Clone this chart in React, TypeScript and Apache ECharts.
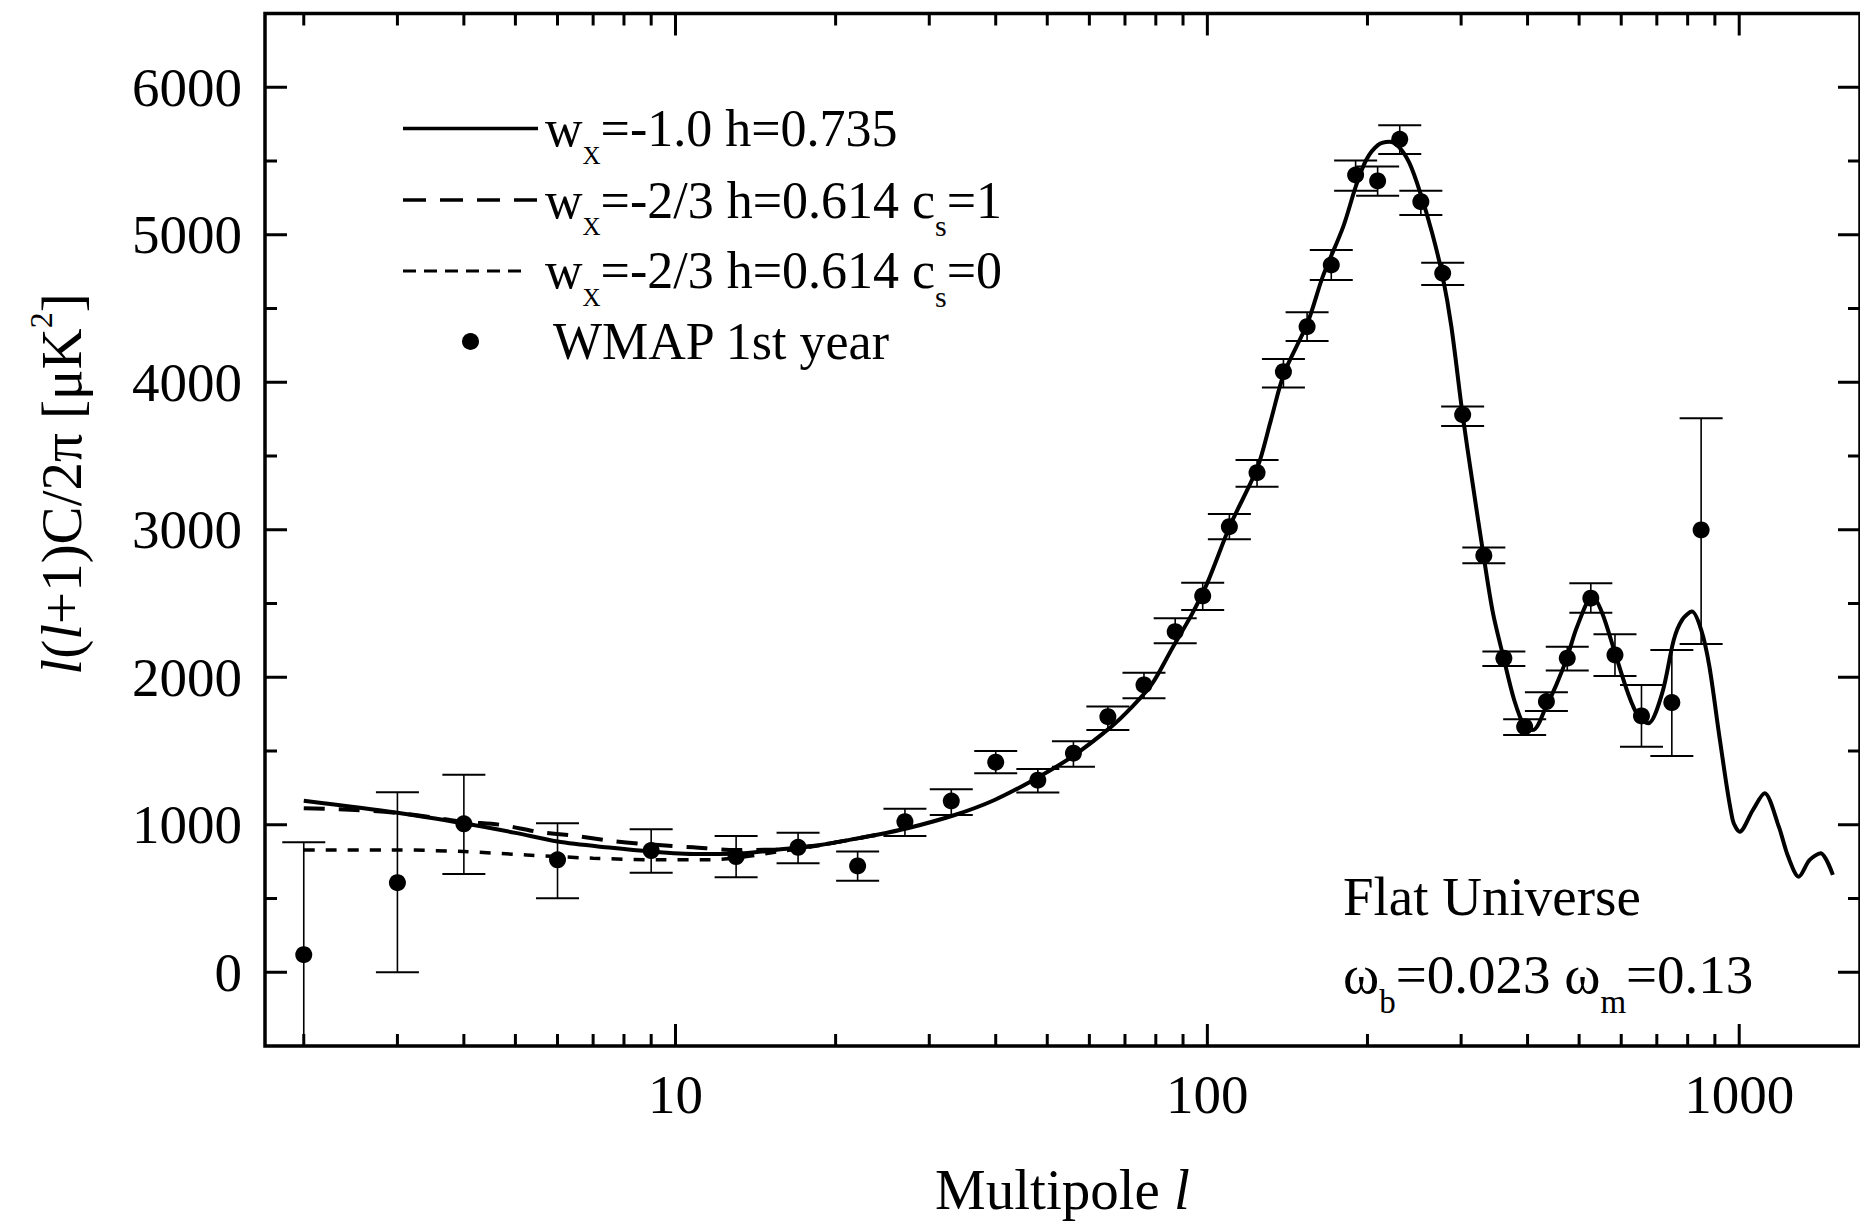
import React, { useEffect, useRef } from "react";
import * as echarts from "echarts";

const FONT = '"Liberation Serif", "Times New Roman", serif';

// WMAP 1st-year binned points
const wmapL = [2, 3, 4, 6, 9, 13, 17, 22, 27, 33, 40, 48, 56, 65, 76, 87, 98, 110, 124, 139, 154, 171, 190, 209, 230, 252, 277, 302, 331, 361, 395, 434, 475, 526, 584, 655, 747, 848];
const wmapValue = [119, 607, 1006, 762, 825, 784, 847, 721, 1021, 1161, 1424, 1302, 1485, 1733, 1948, 2309, 2551, 3021, 3387, 4072, 4377, 4795, 5405, 5365, 5647, 5224, 4739, 3780, 2825, 2129, 1665, 1835, 2129, 2536, 2151, 1738, 1828, 2999];
const wmapHigh = [881, 1220, 1339, 1010, 970, 924, 946, 818, 1109, 1241, 1500, 1378, 1566, 1801, 2031, 2400, 2641, 3107, 3473, 4158, 4475, 4897, 5503, 5462, 5742, 5299, 4811, 3835, 2879, 2174, 1715, 1898, 2207, 2637, 2292, 1948, 2185, 3756];
const wmapLow = [-600, 0, 666, 502, 675, 644, 739, 621, 924, 1066, 1349, 1218, 1394, 1643, 1858, 2231, 2456, 2936, 3292, 3964, 4280, 4694, 5299, 5265, 5548, 5134, 4660, 3704, 2773, 2077, 1609, 1772, 2045, 2438, 2009, 1529, 1466, 2226];

// w = -1.0, h = 0.735 model curve
const lcdmL = [2, 3, 4, 5, 6, 7.5, 9, 11, 13, 15.5, 18.7, 23.8, 27.3, 33.5, 39.8, 47.1, 55.7, 66, 72, 78.7, 86, 93.6, 100, 110.4, 124.3, 131.6, 139.4, 154.2, 164.8, 180.1, 190.1, 198.9, 209.5, 219.9, 228.9, 239.9, 251.5, 264.7, 277, 287.6, 302, 314.6, 330.6, 344.4, 360.7, 377.5, 395, 409.6, 433.5, 453.2, 475.3, 495.6, 530, 552.7, 584.3, 617.8, 646.5, 674.6, 716.4, 753.2, 781, 815, 848.3, 879, 919.8, 972, 1002, 1061, 1116, 1187, 1236, 1294, 1356, 1422, 1500];
const lcdmValue = [1163, 1082, 1010, 945, 886, 845, 818, 802, 803, 830, 863, 931, 976, 1066, 1168, 1304, 1462, 1665, 1795, 1955, 2200, 2430, 2640, 3030, 3425, 3740, 4061, 4400, 4716, 5055, 5326, 5507, 5609, 5630, 5597, 5485, 5282, 5010, 4716, 4377, 3778, 3338, 2825, 2434, 2129, 1846, 1665, 1643, 1801, 1950, 2140, 2343, 2549, 2434, 2163, 1892, 1733, 1688, 1892, 2253, 2389, 2445, 2321, 2072, 1575, 1033, 953, 1100, 1213, 987, 784, 648, 761, 807, 660];

// w = -2/3, h = 0.614, cs = 1 (differs only at low l)
const cs1L = [2, 2.5, 3, 3.5, 4, 4.7, 5.5, 6.5, 7.6, 9, 10.8, 13, 15.5, 18.7, 23.8];
const cs1Value = [1112, 1100, 1080, 1050, 1020, 999, 953, 924, 890, 866, 847, 829, 833, 863, 931];

// w = -2/3, h = 0.614, cs = 0 (differs only at low l)
const cs0L = [2, 3, 4, 5.25, 7, 9.35, 11.3, 13, 15.5, 18.7, 23.8];
const cs0Value = [829, 829, 818, 795, 773, 762, 762, 775, 815, 860, 931];

// axes
const X_MIN = 1.691;
const X_MAX = 1687;
const Y_MIN = -500;
const Y_MAX = 6500;
const xMajorTicks = [10, 100, 1000];
const xMinorTicks = [2, 3, 4, 5, 6, 7, 8, 9, 20, 30, 40, 50, 60, 70, 80, 90, 200, 300, 400, 500, 600, 700, 800, 900];
const yMajorTicks = [0, 1000, 2000, 3000, 4000, 5000, 6000];
const yMinorTicks = [500, 1500, 2500, 3500, 4500, 5500];
const yLabelValues = [0, 1000, 2000, 3000, 4000, 5000, 6000];

const MAJOR_LEN = 22;
const MINOR_LEN = 12;
const CAP_HALF = 21.5;

function pairs(xs: number[], ys: number[]) {
  return xs.map((x, i) => [x, ys[i]]);
}

function buildOption(): any {
  const tickStyle = { stroke: "#000", lineWidth: 3 };
  const xTickData = [
    ...xMajorTicks.map((v) => [v, 0, 1]),
    ...xMinorTicks.map((v) => [v, 0, 0]),
  ];
  const yTickData = [
    ...yMajorTicks.map((v) => [10, v, 1]),
    ...yMinorTicks.map((v) => [10, v, 0]),
  ];

  const legendRich = {
    m: { fontSize: 52, fontFamily: FONT, fill: "#000", verticalAlign: "middle" },
    x: { fontSize: 25, fontFamily: FONT, fill: "#000", verticalAlign: "middle", padding: [53, 0, 0, 0] },
    s: { fontSize: 30, fontFamily: FONT, fill: "#000", verticalAlign: "middle", padding: [51, 0, 0, 0] },
  };
  const annoRich = {
    m: { fontSize: 55, fontFamily: FONT, fill: "#000", verticalAlign: "middle" },
    s: { fontSize: 33, fontFamily: FONT, fill: "#000", verticalAlign: "middle", padding: [55, 0, 0, 0] },
  };
  const yTitleRich = {
    m: { fontSize: 57, fontFamily: FONT, fill: "#000", verticalAlign: "middle" },
    i: { fontSize: 57, fontFamily: FONT, fontStyle: "italic", fill: "#000", verticalAlign: "middle" },
    p: { fontSize: 32, fontFamily: FONT, fill: "#000", verticalAlign: "middle", padding: [0, 0, 40, 0] },
  };

  return {
    animation: false,
    backgroundColor: "#fff",
    grid: {
      left: 265,
      top: 13.5,
      width: 1597,
      height: 1032.5,
      show: true,
      borderColor: "#000",
      borderWidth: 3.5,
      backgroundColor: "transparent",
    },
    xAxis: {
      type: "log",
      logBase: 10,
      min: X_MIN,
      max: X_MAX,
      axisLine: { show: false },
      axisTick: { show: false },
      minorTick: { show: false },
      splitLine: { show: false },
      axisLabel: {
        showMinLabel: false,
        showMaxLabel: false,
        margin: 21,
        fontSize: 55,
        fontFamily: FONT,
        color: "#000",
        formatter: (v: number) => String(Math.round(v)),
      },
      name: "Multipole {i|l}",
      nameLocation: "middle",
      nameGap: 115,
      nameTextStyle: {
        fontSize: 57,
        fontFamily: FONT,
        color: "#000",
        lineHeight: 57,
        rich: {
          i: { fontSize: 57, fontFamily: FONT, fontStyle: "italic", color: "#000", lineHeight: 57 },
        },
      },
    },
    yAxis: {
      type: "value",
      min: Y_MIN,
      max: Y_MAX,
      axisLine: { show: false },
      axisTick: { show: false },
      splitLine: { show: false },
      axisLabel: {
        customValues: yLabelValues,
        margin: 23,
        fontSize: 55,
        fontFamily: FONT,
        color: "#000",
        formatter: (v: number) => String(Math.round(v)),
      },
    },
    graphic: [
      {
        type: "text",
        x: 61,
        y: 484,
        rotation: Math.PI / 2,
        style: {
          text: "{i|l}{m|(}{i|l}{m|+1)C/2π [μK}{p|2}{m|]}",
          align: "center",
          verticalAlign: "middle",
          fontSize: 57,
          fontFamily: FONT,
          fill: "#000",
          rich: yTitleRich,
        },
      },
      // legend
      { type: "line", shape: { x1: 403, y1: 128.5, x2: 538, y2: 128.5 }, style: { stroke: "#000", lineWidth: 3.5 } },
      { type: "line", shape: { x1: 403, y1: 200, x2: 538, y2: 200 }, style: { stroke: "#000", lineWidth: 3.5, lineDash: [23, 14] } },
      { type: "line", shape: { x1: 403, y1: 271, x2: 526, y2: 271 }, style: { stroke: "#000", lineWidth: 3, lineDash: [13, 8] } },
      { type: "circle", shape: { cx: 470.5, cy: 341.5, r: 8.5 }, style: { fill: "#000" } },
      {
        type: "text",
        x: 545,
        y: 128.5,
        style: { text: "{m|w}{x|X}{m|=-1.0 h=0.735}", align: "left", verticalAlign: "middle", fontSize: 52, fontFamily: FONT, fill: "#000", rich: legendRich },
      },
      {
        type: "text",
        x: 545,
        y: 200,
        style: { text: "{m|w}{x|X}{m|=-2/3 h=0.614 c}{s|s}{m|=1}", align: "left", verticalAlign: "middle", fontSize: 52, fontFamily: FONT, fill: "#000", rich: legendRich },
      },
      {
        type: "text",
        x: 545,
        y: 270.5,
        style: { text: "{m|w}{x|X}{m|=-2/3 h=0.614 c}{s|s}{m|=0}", align: "left", verticalAlign: "middle", fontSize: 52, fontFamily: FONT, fill: "#000", rich: legendRich },
      },
      {
        type: "text",
        x: 553,
        y: 341.5,
        style: { text: "{m|WMAP 1st year}", align: "left", verticalAlign: "middle", fontSize: 52, fontFamily: FONT, fill: "#000", rich: legendRich },
      },
      // annotation
      {
        type: "text",
        x: 1343,
        y: 896.5,
        style: { text: "{m|Flat Universe}", align: "left", verticalAlign: "middle", fontSize: 55, fontFamily: FONT, fill: "#000", rich: annoRich },
      },
      {
        type: "text",
        x: 1343,
        y: 974.5,
        style: { text: "{m|ω}{s|b}{m|=0.023 ω}{s|m}{m|=0.13}", align: "left", verticalAlign: "middle", fontSize: 55, fontFamily: FONT, fill: "#000", rich: annoRich },
      },
    ],
    series: [
      {
        name: "WMAP error",
        type: "custom",
        coordinateSystem: "cartesian2d",
        silent: true,
        z: 2,
        encode: { x: 0, y: [1, 2] },
        data: wmapL.map((l, i) => [l, wmapLow[i], wmapHigh[i]]),
        renderItem: (params: any, api: any) => {
          const l = api.value(0);
          const lo = api.value(1);
          const hi = api.value(2);
          const cs = params.coordSys;
          const bottom = cs.y + cs.height;
          const pHi = api.coord([l, hi]);
          const pLo = api.coord([l, lo]);
          const yLo = Math.min(pLo[1], bottom);
          const children: any[] = [
            { type: "line", shape: { x1: pHi[0], y1: pHi[1], x2: pHi[0], y2: yLo }, style: { stroke: "#000", lineWidth: 1.6 } },
            { type: "line", shape: { x1: pHi[0] - CAP_HALF, y1: pHi[1], x2: pHi[0] + CAP_HALF, y2: pHi[1] }, style: { stroke: "#000", lineWidth: 2 } },
          ];
          if (pLo[1] <= bottom) {
            children.push({ type: "line", shape: { x1: pLo[0] - CAP_HALF, y1: pLo[1], x2: pLo[0] + CAP_HALF, y2: pLo[1] }, style: { stroke: "#000", lineWidth: 2 } });
          }
          return { type: "group", children };
        },
      },
      {
        name: "cs0",
        type: "line",
        data: pairs(cs0L, cs0Value),
        showSymbol: false,
        smooth: 0.3,
        z: 3,
        lineStyle: { color: "#000", width: 3.5, type: [11, 11] },
      },
      {
        name: "cs1",
        type: "line",
        data: pairs(cs1L, cs1Value),
        showSymbol: false,
        smooth: 0.3,
        z: 3,
        lineStyle: { color: "#000", width: 4, type: [21, 14] },
      },
      {
        name: "lcdm",
        type: "line",
        data: pairs(lcdmL, lcdmValue),
        showSymbol: false,
        smooth: 0.3,
        z: 4,
        lineStyle: { color: "#000", width: 4 },
      },
      {
        name: "WMAP 1st year",
        type: "scatter",
        data: pairs(wmapL, wmapValue),
        symbol: "circle",
        symbolSize: 17,
        z: 5,
        itemStyle: { color: "#000", opacity: 1 },
      },
      {
        name: "xticks",
        type: "custom",
        coordinateSystem: "cartesian2d",
        silent: true,
        z: 6,
        data: xTickData,
        renderItem: (params: any, api: any) => {
          const v = api.value(0);
          const len = api.value(2) ? MAJOR_LEN : MINOR_LEN;
          const cs = params.coordSys;
          const px = api.coord([v, 0])[0];
          const top = cs.y;
          const bottom = cs.y + cs.height;
          return {
            type: "group",
            children: [
              { type: "line", shape: { x1: px, y1: bottom, x2: px, y2: bottom - len }, style: tickStyle },
              { type: "line", shape: { x1: px, y1: top, x2: px, y2: top + len }, style: tickStyle },
            ],
          };
        },
      },
      {
        name: "yticks",
        type: "custom",
        coordinateSystem: "cartesian2d",
        silent: true,
        z: 6,
        data: yTickData,
        renderItem: (params: any, api: any) => {
          const v = api.value(1);
          const len = api.value(2) ? MAJOR_LEN : MINOR_LEN;
          const cs = params.coordSys;
          const py = api.coord([10, v])[1];
          const left = cs.x;
          const right = cs.x + cs.width;
          return {
            type: "group",
            children: [
              { type: "line", shape: { x1: left, y1: py, x2: left + len, y2: py }, style: tickStyle },
              { type: "line", shape: { x1: right, y1: py, x2: right - len, y2: py }, style: tickStyle },
            ],
          };
        },
      },
    ],
  };
}

export default function App() {
  const ref = useRef<HTMLDivElement>(null);
  useEffect(() => {
    if (!ref.current) return;
    const chart = echarts.init(ref.current, null, { renderer: "svg" });
    chart.setOption(buildOption());
    return () => chart.dispose();
  }, []);
  return (
    <div
      ref={ref}
      style={{ position: "absolute", left: 0, top: 0, width: 1860, height: 1226, background: "#fff" }}
    />
  );
}
